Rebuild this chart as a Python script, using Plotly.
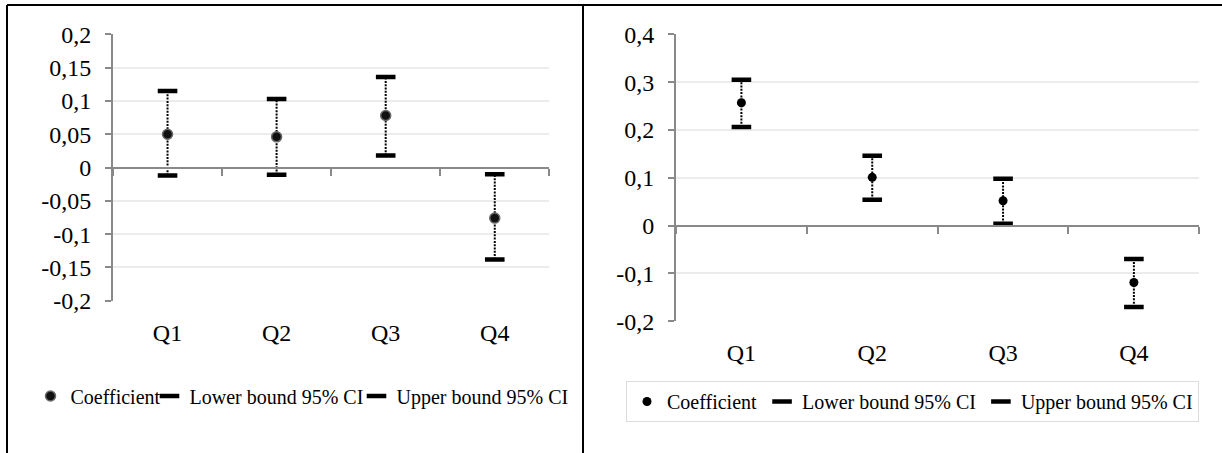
import plotly.graph_objects as go

# ---------------- data ----------------
categories = ["Q1", "Q2", "Q3", "Q4"]
series_names = ["Coefficient", "Lower bound 95% CI", "Upper bound 95% CI"]

left_coef = [0.050, 0.046, 0.078, -0.076]
left_lower = [-0.012, -0.011, 0.018, -0.138]
left_upper = [0.115, 0.103, 0.136, -0.010]

right_coef = [0.257, 0.101, 0.052, -0.119]
right_lower = [0.206, 0.054, 0.004, -0.170]
right_upper = [0.305, 0.146, 0.098, -0.070]

left_tickvals = [0.2, 0.15, 0.1, 0.05, 0, -0.05, -0.1, -0.15, -0.2]
left_ticktext = ["0,2", "0,15", "0,1", "0,05", "0", "-0,05", "-0,1", "-0,15", "-0,2"]
right_tickvals = [0.4, 0.3, 0.2, 0.1, 0, -0.1, -0.2]
right_ticktext = ["0,4", "0,3", "0,2", "0,1", "0", "-0,1", "-0,2"]

# ---------------- styling ----------------
W, H = 1222, 453
FONT = "Liberation Serif, Times New Roman, DejaVu Serif, serif"
AXIS_COLOR = "#898989"
GRID_COLOR = "#ececec"
n = len(categories)

left_dom_x = [113 / W, 549.3 / W]
right_dom_x = [676 / W, 1199.3 / W]
left_dom_y = [1 - 300.7 / H, 1 - 34.3 / H]
right_dom_y = [1 - 321.3 / H, 1 - 34.3 / H]
left_range = [min(left_tickvals), max(left_tickvals)]
right_range = [min(right_tickvals), max(right_tickvals)]

# tighter legend entries on the left panel (entry width in px)
left_legend_widths = {series_names[0]: 74, series_names[1]: 162, series_names[2]: 182}


def zero_pos(dom, rng):
    return dom[0] + (0 - rng[0]) / (rng[1] - rng[0]) * (dom[1] - dom[0])


fig = go.Figure()


def add_panel(coef, lower, upper, xa, ya, xzero, legend, coef_marker, dash_size, lwidths=None):
    lw = (lambda nm: lwidths[nm]) if lwidths else (lambda nm: None)
    # dotted connectors from lower to upper
    cx, cy = [], []
    for c, lo, up in zip(categories, lower, upper):
        cx += [c, c, None]
        cy += [lo, up, None]
    fig.add_trace(go.Scatter(x=cx, y=cy, mode="lines", xaxis=xa, yaxis=ya,
                             line=dict(color="black", width=2, dash="2px,1.3px"),
                             showlegend=False, hoverinfo="skip"))
    fig.add_trace(go.Scatter(x=categories, y=lower, mode="markers", name=series_names[1],
                             xaxis=xa, yaxis=ya, legend=legend, legendrank=2,
                             legendwidth=lw(series_names[1]),
                             marker=dict(symbol="line-ew", size=dash_size,
                                         line=dict(color="black", width=4.5))))
    fig.add_trace(go.Scatter(x=categories, y=upper, mode="markers", name=series_names[2],
                             xaxis=xa, yaxis=ya, legend=legend, legendrank=3,
                             legendwidth=lw(series_names[2]),
                             marker=dict(symbol="line-ew", size=dash_size,
                                         line=dict(color="black", width=4.5))))
    fig.add_trace(go.Scatter(x=categories, y=coef, mode="markers", name=series_names[0],
                             xaxis=xa, yaxis=ya, legend=legend, legendrank=1,
                             legendwidth=lw(series_names[0]), marker=coef_marker))
    # helper (invisible) trace so the zero-line axis has a subplot
    fig.add_trace(go.Scatter(x=[-0.5, n - 0.5], y=[0, 0], mode="lines", xaxis=xzero, yaxis=ya,
                             line=dict(width=0), opacity=0, showlegend=False, hoverinfo="skip"))


add_panel(left_coef, left_lower, left_upper, "x", "y", "x3", "legend",
          dict(symbol="circle", size=10, color="#111111", line=dict(color="#6a6a6a", width=1.5)),
          14, left_legend_widths)
add_panel(right_coef, right_lower, right_upper, "x2", "y2", "x4", "legend2",
          dict(symbol="circle", size=9, color="black"),
          14)

tick_font = dict(family=FONT, size=24, color="black")
leg_font = dict(family=FONT, size=20, color="black")


def yaxis(dom, rng, vals, text, anchor):
    return dict(domain=dom, range=rng, anchor=anchor, tickmode="array", tickvals=vals,
                ticktext=text, showgrid=True, gridcolor=GRID_COLOR, gridwidth=1.5,
                zeroline=False, showline=True, linecolor=AXIS_COLOR, linewidth=2,
                ticks="outside", ticklen=6, tickwidth=1.5, tickcolor=AXIS_COLOR,
                tickfont=tick_font, ticklabelstandoff=9, automargin=False, fixedrange=True)


def xaxis_labels(dom, anchor):
    return dict(domain=dom, anchor=anchor, type="category", categoryorder="array",
                categoryarray=categories, range=[-0.5, n - 0.5], showgrid=False,
                zeroline=False, showline=False, ticks="", tickfont=tick_font,
                ticklabelstandoff=15, automargin=False, fixedrange=True)


def xaxis_zero(over, pos):
    return dict(overlaying=over, anchor="free", position=pos, range=[-0.5, n - 0.5],
                tickmode="array", tickvals=[i - 0.5 for i in range(n + 1)],
                showticklabels=False, ticks="outside", ticklen=7, tickwidth=1.5,
                tickcolor=AXIS_COLOR, showline=True, linecolor=AXIS_COLOR, linewidth=2,
                showgrid=False, zeroline=False, automargin=False, fixedrange=True)


fig.update_layout(
    template="none",
    width=W, height=H,
    margin=dict(l=0, r=0, t=0, b=0, pad=0, autoexpand=False),
    paper_bgcolor="white", plot_bgcolor="white",
    font=dict(family=FONT, color="black"),
    hovermode=False,
    xaxis=xaxis_labels(left_dom_x, "y"),
    yaxis=yaxis(left_dom_y, left_range, left_tickvals, left_ticktext, "x"),
    xaxis2=xaxis_labels(right_dom_x, "y2"),
    yaxis2=yaxis(right_dom_y, right_range, right_tickvals, right_ticktext, "x2"),
    xaxis3=xaxis_zero("x", zero_pos(left_dom_y, left_range)),
    xaxis4=xaxis_zero("x2", zero_pos(right_dom_y, right_range)),
    legend=dict(orientation="h", x=307 / W, xanchor="center", y=1 - 396 / H, yanchor="middle",
                font=leg_font, bgcolor="rgba(0,0,0,0)", borderwidth=0,
                traceorder="normal", itemclick=False, itemdoubleclick=False),
    legend2=dict(orientation="h", x=912.5 / W, xanchor="center", y=1 - 401.5 / H, yanchor="middle",
                 font=leg_font, bgcolor="white", bordercolor="#dcdcdc", borderwidth=1,
                 traceorder="normal", itemclick=False, itemdoubleclick=False),
    shapes=[
        dict(type="line", xref="paper", yref="paper", x0=7 / W, x1=7 / W, y0=0, y1=1 - 5 / H,
             line=dict(color="black", width=2)),
        dict(type="line", xref="paper", yref="paper", x0=7 / W, x1=1, y0=1 - 5 / H, y1=1 - 5 / H,
             line=dict(color="black", width=2)),
        dict(type="line", xref="paper", yref="paper", x0=583 / W, x1=583 / W, y0=0, y1=1 - 5 / H,
             line=dict(color="black", width=2)),
    ],
)

fig.write_html(
    "out.html",
    config={"displayModeBar": False},
    post_script="document.body.style.margin='0';document.body.style.overflow='hidden';",
)
